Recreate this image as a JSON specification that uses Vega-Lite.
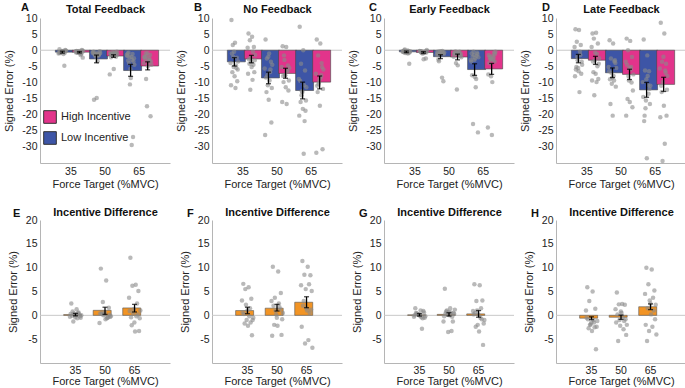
{
"$schema":"https://vega.github.io/schema/vega-lite/v6.json",
"padding":{"left":3,"top":2,"right":0,"bottom":0},
"background":"white",
"config":{"font":"Liberation Sans","view":{"stroke":null},
 "axis":{"labelFont":"Liberation Sans","titleFont":"Liberation Sans","labelFontSize":10.5,"titleFontSize":11,"titleFontWeight":"normal","labelColor":"#222","titleColor":"#222","ticks":false,"grid":false,"domainColor":"#b5b5b5","labelPadding":3,"titlePadding":7,"labelOverlap":false},
 "title":{"anchor":"start","frame":"group","fontSize":11,"fontWeight":"bold","color":"#111","font":"Liberation Sans"},
 "legend":{"labelFont":"Liberation Sans"}},
"datasets":{
"bars":[
{"p":"A","c":"35L","g":"Low Incentive","m":-0.6,"lo":-0.9,"hi":-0.3},
{"p":"A","c":"35H","g":"High Incentive","m":-0.6,"lo":-0.85,"hi":-0.4},
{"p":"A","c":"50L","g":"Low Incentive","m":-2.7,"lo":-3.9,"hi":-1.5},
{"p":"A","c":"50H","g":"High Incentive","m":-1.8,"lo":-2.2,"hi":-1.4},
{"p":"A","c":"65L","g":"Low Incentive","m":-6.3,"lo":-8.1,"hi":-4.4},
{"p":"A","c":"65H","g":"High Incentive","m":-4.9,"lo":-6.1,"hi":-3.6},
{"p":"B","c":"35L","g":"Low Incentive","m":-3.6,"lo":-4.9,"hi":-2.3},
{"p":"B","c":"35H","g":"High Incentive","m":-2.7,"lo":-3.9,"hi":-1.6},
{"p":"B","c":"50L","g":"Low Incentive","m":-8.6,"lo":-10.4,"hi":-6.8},
{"p":"B","c":"50H","g":"High Incentive","m":-7.2,"lo":-8.7,"hi":-5.6},
{"p":"B","c":"65L","g":"Low Incentive","m":-12.5,"lo":-15.1,"hi":-9.9},
{"p":"B","c":"65H","g":"High Incentive","m":-9.9,"lo":-12.0,"hi":-8.0},
{"p":"C","c":"35L","g":"Low Incentive","m":-0.5,"lo":-0.75,"hi":-0.25},
{"p":"C","c":"35H","g":"High Incentive","m":-0.7,"lo":-0.95,"hi":-0.45},
{"p":"C","c":"50L","g":"Low Incentive","m":-2.0,"lo":-2.6,"hi":-1.4},
{"p":"C","c":"50H","g":"High Incentive","m":-2.1,"lo":-3.0,"hi":-1.2},
{"p":"C","c":"65L","g":"Low Incentive","m":-6.0,"lo":-7.8,"hi":-4.2},
{"p":"C","c":"65H","g":"High Incentive","m":-5.8,"lo":-7.5,"hi":-4.1},
{"p":"D","c":"35L","g":"Low Incentive","m":-2.6,"lo":-3.9,"hi":-1.3},
{"p":"D","c":"35H","g":"High Incentive","m":-3.1,"lo":-4.4,"hi":-1.9},
{"p":"D","c":"50L","g":"Low Incentive","m":-7.0,"lo":-8.5,"hi":-5.5},
{"p":"D","c":"50H","g":"High Incentive","m":-7.5,"lo":-9.1,"hi":-5.9},
{"p":"D","c":"65L","g":"Low Incentive","m":-12.3,"lo":-14.6,"hi":-10.0},
{"p":"D","c":"65H","g":"High Incentive","m":-10.6,"lo":-12.8,"hi":-8.4},
{"p":"E","c":"35","g":"Difference","m":0.15,"lo":-0.1,"hi":0.4},
{"p":"E","c":"50","g":"Difference","m":1.05,"lo":0.2,"hi":1.7},
{"p":"E","c":"65","g":"Difference","m":1.55,"lo":0.7,"hi":2.3},
{"p":"F","c":"35","g":"Difference","m":1.0,"lo":0.35,"hi":1.7},
{"p":"F","c":"50","g":"Difference","m":1.5,"lo":0.9,"hi":2.3},
{"p":"F","c":"65","g":"Difference","m":2.75,"lo":1.6,"hi":3.9},
{"p":"G","c":"35","g":"Difference","m":0.1,"lo":-0.15,"hi":0.35},
{"p":"G","c":"50","g":"Difference","m":0.2,"lo":-0.15,"hi":0.55},
{"p":"G","c":"65","g":"Difference","m":0.3,"lo":-0.4,"hi":1.0},
{"p":"H","c":"35","g":"Difference","m":-0.6,"lo":-0.9,"hi":-0.3},
{"p":"H","c":"50","g":"Difference","m":-0.4,"lo":-0.85,"hi":0.05},
{"p":"H","c":"65","g":"Difference","m":1.8,"lo":1.2,"hi":2.4}
],
"pA":[
{"c":"35L","v":0.3},{"c":"35L","v":-0.2},{"c":"35L","v":-0.5},{"c":"35L","v":-0.8},{"c":"35L","v":-1.0},{"c":"35L","v":-0.4},{"c":"35L","v":-0.6},{"c":"35L","v":-0.1},{"c":"35L","v":-0.9},{"c":"35L","v":-0.3},{"c":"35L","v":0.1},{"c":"35L","v":-0.7},{"c":"35L","v":-1.2},{"c":"35L","v":-0.5},{"c":"35L","v":-0.2},{"c":"35L","v":-0.8},{"c":"35L","v":-4.8},{"c":"35L","v":-0.4},
{"c":"35H","v":-0.2},{"c":"35H","v":-0.5},{"c":"35H","v":-0.8},{"c":"35H","v":0.1},{"c":"35H","v":-0.3},{"c":"35H","v":-1.0},{"c":"35H","v":-0.6},{"c":"35H","v":-2.3},{"c":"35H","v":-0.4},{"c":"35H","v":-0.9},{"c":"35H","v":-0.1},{"c":"35H","v":-0.7},{"c":"35H","v":-1.5},{"c":"35H","v":-0.5},{"c":"35H","v":-0.3},{"c":"35H","v":-0.6},{"c":"35H","v":-1.1},{"c":"35H","v":-0.2},
{"c":"50L","v":-0.5},{"c":"50L","v":-1.0},{"c":"50L","v":-1.2},{"c":"50L","v":-1.5},{"c":"50L","v":-0.8},{"c":"50L","v":-1.8},{"c":"50L","v":-2.0},{"c":"50L","v":-0.3},{"c":"50L","v":-1.3},{"c":"50L","v":-14.8},{"c":"50L","v":-1.1},{"c":"50L","v":-0.7},{"c":"50L","v":-3.4},{"c":"50L","v":-1.6},{"c":"50L","v":-0.9},{"c":"50L","v":-15.4},{"c":"50L","v":-1.4},{"c":"50L","v":-1.0},
{"c":"50H","v":-1.2},{"c":"50H","v":-0.8},{"c":"50H","v":-1.5},{"c":"50H","v":-2.0},{"c":"50H","v":-7.5},{"c":"50H","v":-1.0},{"c":"50H","v":-1.7},{"c":"50H","v":-0.5},{"c":"50H","v":-1.3},{"c":"50H","v":-5.8},{"c":"50H","v":-1.1},{"c":"50H","v":-0.9},{"c":"50H","v":-1.6},{"c":"50H","v":-0.6},{"c":"50H","v":-1.4},{"c":"50H","v":-2.2},{"c":"50H","v":-0.7},{"c":"50H","v":-1.0},
{"c":"65L","v":-1.0},{"c":"65L","v":-2.0},{"c":"65L","v":-4.0},{"c":"65L","v":-26.9},{"c":"65L","v":-1.5},{"c":"65L","v":-3.0},{"c":"65L","v":-10.6},{"c":"65L","v":-2.5},{"c":"65L","v":-0.8},{"c":"65L","v":-8.6},{"c":"65L","v":-3.5},{"c":"65L","v":-1.8},{"c":"65L","v":-29.4},{"c":"65L","v":-2.2},{"c":"65L","v":-4.5},{"c":"65L","v":-3.2},{"c":"65L","v":-1.2},{"c":"65L","v":-5.8},
{"c":"65H","v":-2.0},{"c":"65H","v":-3.0},{"c":"65H","v":-8.9},{"c":"65H","v":-1.5},{"c":"65H","v":-4.0},{"c":"65H","v":-2.5},{"c":"65H","v":-17.4},{"c":"65H","v":-3.5},{"c":"65H","v":-1.0},{"c":"65H","v":-5.0},{"c":"65H","v":-20.5},{"c":"65H","v":-2.2},{"c":"65H","v":-3.8},{"c":"65H","v":-1.8},{"c":"65H","v":-4.5},{"c":"65H","v":-2.8},{"c":"65H","v":-3.2},{"c":"65H","v":-0.9}
],
"pB":[
{"c":"35L","v":9.4},{"c":"35L","v":2.3},{"c":"35L","v":1.6},{"c":"35L","v":-2.3},{"c":"35L","v":-4.0},{"c":"35L","v":-4.7},{"c":"35L","v":-5.2},{"c":"35L","v":-6.0},{"c":"35L","v":-6.8},{"c":"35L","v":-8.1},{"c":"35L","v":-9.6},{"c":"35L","v":-10.9},{"c":"35L","v":-11.7},{"c":"35L","v":-2.0},{"c":"35L","v":-3.5},{"c":"35L","v":-1.0},{"c":"35L","v":-5.5},{"c":"35L","v":-0.5},
{"c":"35H","v":5.2},{"c":"35H","v":4.2},{"c":"35H","v":3.1},{"c":"35H","v":1.0},{"c":"35H","v":0.8},{"c":"35H","v":-0.5},{"c":"35H","v":-2.3},{"c":"35H","v":-3.1},{"c":"35H","v":-4.2},{"c":"35H","v":-5.2},{"c":"35H","v":-6.8},{"c":"35H","v":-7.3},{"c":"35H","v":-9.2},{"c":"35H","v":-12.3},{"c":"35H","v":-1.5},{"c":"35H","v":-2.8},{"c":"35H","v":-4.5},{"c":"35H","v":-3.5},
{"c":"50L","v":3.3},{"c":"50L","v":-1.0},{"c":"50L","v":-2.6},{"c":"50L","v":-3.6},{"c":"50L","v":-5.7},{"c":"50L","v":-6.8},{"c":"50L","v":-10.9},{"c":"50L","v":-11.7},{"c":"50L","v":-13.0},{"c":"50L","v":-15.4},{"c":"50L","v":-22.4},{"c":"50L","v":-26.3},{"c":"50L","v":-9.4},{"c":"50L","v":-7.8},{"c":"50L","v":-4.5},{"c":"50L","v":-8.5},{"c":"50L","v":-6.0},{"c":"50L","v":-2.0},
{"c":"50H","v":1.2},{"c":"50H","v":1.0},{"c":"50H","v":-1.6},{"c":"50H","v":-4.7},{"c":"50H","v":-5.2},{"c":"50H","v":-6.3},{"c":"50H","v":-7.8},{"c":"50H","v":-9.4},{"c":"50H","v":-9.9},{"c":"50H","v":-11.5},{"c":"50H","v":-12.5},{"c":"50H","v":-16.1},{"c":"50H","v":-16.7},{"c":"50H","v":-3.0},{"c":"50H","v":-5.5},{"c":"50H","v":-8.0},{"c":"50H","v":-6.5},{"c":"50H","v":-7.8},
{"c":"65L","v":7.3},{"c":"65L","v":0.0},{"c":"65L","v":-4.2},{"c":"65L","v":-6.3},{"c":"65L","v":-8.9},{"c":"65L","v":-10.9},{"c":"65L","v":-12.7},{"c":"65L","v":-15.6},{"c":"65L","v":-16.1},{"c":"65L","v":-18.2},{"c":"65L","v":-18.8},{"c":"65L","v":-20.3},{"c":"65L","v":-32.1},{"c":"65L","v":-14.0},{"c":"65L","v":-11.5},{"c":"65L","v":-9.5},{"c":"65L","v":-22.0},{"c":"65L","v":-13.0},
{"c":"65H","v":3.3},{"c":"65H","v":2.1},{"c":"65H","v":-1.6},{"c":"65H","v":-5.2},{"c":"65H","v":-7.3},{"c":"65H","v":-7.8},{"c":"65H","v":-9.9},{"c":"65H","v":-12.0},{"c":"65H","v":-13.0},{"c":"65H","v":-17.2},{"c":"65H","v":-30.7},{"c":"65H","v":-31.8},{"c":"65H","v":-8.5},{"c":"65H","v":-10.5},{"c":"65H","v":-6.0},{"c":"65H","v":-11.0},{"c":"65H","v":-4.0},{"c":"65H","v":-9.0}
],
"pC":[
{"c":"35L","v":-0.2},{"c":"35L","v":-0.5},{"c":"35L","v":0.2},{"c":"35L","v":-0.8},{"c":"35L","v":-0.4},{"c":"35L","v":-1.0},{"c":"35L","v":-0.3},{"c":"35L","v":-0.6},{"c":"35L","v":0.0},{"c":"35L","v":-0.7},{"c":"35L","v":-4.2},{"c":"35L","v":-0.5},{"c":"35L","v":-0.1},{"c":"35L","v":-0.9},{"c":"35L","v":-0.3},{"c":"35L","v":-0.6},{"c":"35L","v":-0.2},{"c":"35L","v":-0.4},
{"c":"35H","v":-0.3},{"c":"35H","v":-0.6},{"c":"35H","v":-0.9},{"c":"35H","v":-2.6},{"c":"35H","v":-0.2},{"c":"35H","v":-0.5},{"c":"35H","v":-1.0},{"c":"35H","v":0.1},{"c":"35H","v":-0.4},{"c":"35H","v":-2.8},{"c":"35H","v":-0.7},{"c":"35H","v":-0.3},{"c":"35H","v":-0.8},{"c":"35H","v":-0.5},{"c":"35H","v":-0.2},{"c":"35H","v":-0.6},{"c":"35H","v":-0.4},{"c":"35H","v":-0.9},
{"c":"50L","v":-0.5},{"c":"50L","v":-1.0},{"c":"50L","v":-3.4},{"c":"50L","v":-0.8},{"c":"50L","v":-1.5},{"c":"50L","v":-8.5},{"c":"50L","v":-0.3},{"c":"50L","v":-1.2},{"c":"50L","v":-2.9},{"c":"50L","v":-0.6},{"c":"50L","v":-9.6},{"c":"50L","v":-0.9},{"c":"50L","v":-0.4},{"c":"50L","v":-1.1},{"c":"50L","v":-0.7},{"c":"50L","v":-1.3},{"c":"50L","v":-0.2},{"c":"50L","v":-0.8},
{"c":"50H","v":-1.0},{"c":"50H","v":-0.6},{"c":"50H","v":-4.0},{"c":"50H","v":-1.5},{"c":"50H","v":-2.0},{"c":"50H","v":-0.8},{"c":"50H","v":-12.2},{"c":"50H","v":-1.2},{"c":"50H","v":-0.4},{"c":"50H","v":-4.7},{"c":"50H","v":-1.8},{"c":"50H","v":-0.9},{"c":"50H","v":-1.4},{"c":"50H","v":-0.7},{"c":"50H","v":-2.2},{"c":"50H","v":-1.1},{"c":"50H","v":-0.5},{"c":"50H","v":-1.0},
{"c":"65L","v":-1.0},{"c":"65L","v":-2.5},{"c":"65L","v":-22.9},{"c":"65L","v":-0.8},{"c":"65L","v":-3.0},{"c":"65L","v":-8.9},{"c":"65L","v":-1.5},{"c":"65L","v":-25.5},{"c":"65L","v":-2.0},{"c":"65L","v":-8.3},{"c":"65L","v":-1.2},{"c":"65L","v":-3.5},{"c":"65L","v":-11.5},{"c":"65L","v":-0.5},{"c":"65L","v":-2.2},{"c":"65L","v":-7.8},{"c":"65L","v":-1.8},{"c":"65L","v":-3.0},
{"c":"65H","v":-1.5},{"c":"65H","v":-9.9},{"c":"65H","v":-2.5},{"c":"65H","v":-0.8},{"c":"65H","v":-24.0},{"c":"65H","v":-3.0},{"c":"65H","v":-8.1},{"c":"65H","v":-1.2},{"c":"65H","v":-2.0},{"c":"65H","v":-26.3},{"c":"65H","v":-3.5},{"c":"65H","v":-7.5},{"c":"65H","v":-1.8},{"c":"65H","v":-2.8},{"c":"65H","v":-0.5},{"c":"65H","v":-4.0},{"c":"65H","v":-2.2},{"c":"65H","v":-2.8}
],
"pD":[
{"c":"35L","v":6.5},{"c":"35L","v":6.3},{"c":"35L","v":2.6},{"c":"35L","v":1.6},{"c":"35L","v":1.0},{"c":"35L","v":-0.5},{"c":"35L","v":-3.1},{"c":"35L","v":-3.6},{"c":"35L","v":-5.2},{"c":"35L","v":-6.5},{"c":"35L","v":-7.3},{"c":"35L","v":-8.1},{"c":"35L","v":-13.0},{"c":"35L","v":-2.0},{"c":"35L","v":-4.5},{"c":"35L","v":-6.0},{"c":"35L","v":-1.5},{"c":"35L","v":-5.5},
{"c":"35H","v":5.2},{"c":"35H","v":5.4},{"c":"35H","v":3.6},{"c":"35H","v":2.1},{"c":"35H","v":1.0},{"c":"35H","v":-1.2},{"c":"35H","v":-3.1},{"c":"35H","v":-4.2},{"c":"35H","v":-6.8},{"c":"35H","v":-7.3},{"c":"35H","v":-8.9},{"c":"35H","v":-9.4},{"c":"35H","v":-9.9},{"c":"35H","v":-14.0},{"c":"35H","v":-2.5},{"c":"35H","v":-3.5},{"c":"35H","v":-5.0},{"c":"35H","v":-0.8},
{"c":"50L","v":3.1},{"c":"50L","v":2.1},{"c":"50L","v":-2.6},{"c":"50L","v":-3.1},{"c":"50L","v":-5.2},{"c":"50L","v":-9.4},{"c":"50L","v":-10.4},{"c":"50L","v":-11.3},{"c":"50L","v":-16.7},{"c":"50L","v":-20.3},{"c":"50L","v":-4.0},{"c":"50L","v":-6.5},{"c":"50L","v":-8.0},{"c":"50L","v":-7.0},{"c":"50L","v":-5.5},{"c":"50L","v":-9.0},{"c":"50L","v":-3.5},{"c":"50L","v":-8.5},
{"c":"50H","v":3.6},{"c":"50H","v":2.9},{"c":"50H","v":0.0},{"c":"50H","v":-2.1},{"c":"50H","v":-3.6},{"c":"50H","v":-5.2},{"c":"50H","v":-9.4},{"c":"50H","v":-12.5},{"c":"50H","v":-15.1},{"c":"50H","v":-16.1},{"c":"50H","v":-17.7},{"c":"50H","v":-20.3},{"c":"50H","v":-6.0},{"c":"50H","v":-8.0},{"c":"50H","v":-7.5},{"c":"50H","v":-4.5},{"c":"50H","v":-10.0},{"c":"50H","v":-5.5},
{"c":"65L","v":3.3},{"c":"65L","v":-1.6},{"c":"65L","v":-6.3},{"c":"65L","v":-6.5},{"c":"65L","v":-9.9},{"c":"65L","v":-10.9},{"c":"65L","v":-15.6},{"c":"65L","v":-16.7},{"c":"65L","v":-20.3},{"c":"65L","v":-33.5},{"c":"65L","v":-12.0},{"c":"65L","v":-14.5},{"c":"65L","v":-8.0},{"c":"65L","v":-18.0},{"c":"65L","v":-11.0},{"c":"65L","v":-22.0},{"c":"65L","v":-13.5},{"c":"65L","v":-9.0},
{"c":"65H","v":8.5},{"c":"65H","v":5.2},{"c":"65H","v":-3.6},{"c":"65H","v":-4.2},{"c":"65H","v":-5.7},{"c":"65H","v":-6.3},{"c":"65H","v":-9.9},{"c":"65H","v":-12.3},{"c":"65H","v":-13.0},{"c":"65H","v":-17.2},{"c":"65H","v":-20.3},{"c":"65H","v":-20.8},{"c":"65H","v":-29.0},{"c":"65H","v":-34.4},{"c":"65H","v":-8.0},{"c":"65H","v":-11.0},{"c":"65H","v":-7.0},{"c":"65H","v":-2.0}
],
"pE":[
{"c":"35","v":2.5},{"c":"35","v":1.3},{"c":"35","v":-1.3},{"c":"35","v":0.2},{"c":"35","v":-0.3},{"c":"35","v":0.5},{"c":"35","v":0.0},{"c":"35","v":-0.5},{"c":"35","v":0.8},{"c":"35","v":0.1},{"c":"35","v":-0.2},{"c":"35","v":0.3},{"c":"35","v":-0.6},{"c":"35","v":0.4},{"c":"35","v":0.0},{"c":"35","v":-0.1},{"c":"35","v":0.6},{"c":"35","v":-0.4},
{"c":"50","v":9.8},{"c":"50","v":7.3},{"c":"50","v":2.8},{"c":"50","v":1.6},{"c":"50","v":-1.6},{"c":"50","v":-0.5},{"c":"50","v":0.2},{"c":"50","v":-0.3},{"c":"50","v":0.5},{"c":"50","v":-0.8},{"c":"50","v":0.1},{"c":"50","v":0.4},{"c":"50","v":-0.6},{"c":"50","v":0.0},{"c":"50","v":-0.2},{"c":"50","v":0.3},{"c":"50","v":-0.4},{"c":"50","v":0.6},
{"c":"65","v":12.1},{"c":"65","v":6.4},{"c":"65","v":6.2},{"c":"65","v":5.1},{"c":"65","v":3.7},{"c":"65","v":2.5},{"c":"65","v":1.3},{"c":"65","v":-0.6},{"c":"65","v":-2.1},{"c":"65","v":-3.4},{"c":"65","v":-3.3},{"c":"65","v":0.9},{"c":"65","v":-0.2},{"c":"65","v":0.5},{"c":"65","v":1.0},{"c":"65","v":-0.4},{"c":"65","v":0.2},{"c":"65","v":-1.5}
],
"pF":[
{"c":"35","v":6.6},{"c":"35","v":5.9},{"c":"35","v":5.5},{"c":"35","v":3.5},{"c":"35","v":3.1},{"c":"35","v":1.5},{"c":"35","v":-1.0},{"c":"35","v":-1.0},{"c":"35","v":-1.7},{"c":"35","v":-2.2},{"c":"35","v":-4.2},{"c":"35","v":0.6},{"c":"35","v":-0.2},{"c":"35","v":2.2},{"c":"35","v":-0.5},{"c":"35","v":0.3},{"c":"35","v":-1.5},{"c":"35","v":1.0},
{"c":"50","v":10.2},{"c":"50","v":9.2},{"c":"50","v":3.7},{"c":"50","v":4.7},{"c":"50","v":3.0},{"c":"50","v":1.7},{"c":"50","v":0.2},{"c":"50","v":-0.8},{"c":"50","v":-2.0},{"c":"50","v":-2.2},{"c":"50","v":-4.1},{"c":"50","v":-4.3},{"c":"50","v":2.5},{"c":"50","v":1.0},{"c":"50","v":0.5},{"c":"50","v":2.0},{"c":"50","v":1.2},{"c":"50","v":-0.5},
{"c":"65","v":11.4},{"c":"65","v":10.2},{"c":"65","v":8.5},{"c":"65","v":8.4},{"c":"65","v":6.3},{"c":"65","v":6.5},{"c":"65","v":5.5},{"c":"65","v":5.1},{"c":"65","v":3.0},{"c":"65","v":1.0},{"c":"65","v":1.2},{"c":"65","v":-2.4},{"c":"65","v":-5.2},{"c":"65","v":-5.9},{"c":"65","v":-6.8},{"c":"65","v":2.0},{"c":"65","v":0.5},{"c":"65","v":1.5}
],
"pG":[
{"c":"35","v":1.5},{"c":"35","v":1.0},{"c":"35","v":0.3},{"c":"35","v":0.9},{"c":"35","v":-0.3},{"c":"35","v":-2.8},{"c":"35","v":0.1},{"c":"35","v":-0.5},{"c":"35","v":0.4},{"c":"35","v":-0.1},{"c":"35","v":0.6},{"c":"35","v":0.0},{"c":"35","v":-0.4},{"c":"35","v":0.2},{"c":"35","v":-0.2},{"c":"35","v":0.5},{"c":"35","v":-0.6},{"c":"35","v":0.2},
{"c":"50","v":5.6},{"c":"50","v":1.5},{"c":"50","v":1.0},{"c":"50","v":-1.3},{"c":"50","v":-1.3},{"c":"50","v":-3.3},{"c":"50","v":-3.5},{"c":"50","v":0.3},{"c":"50","v":0.8},{"c":"50","v":0.0},{"c":"50","v":0.5},{"c":"50","v":-0.2},{"c":"50","v":0.6},{"c":"50","v":0.2},{"c":"50","v":1.2},{"c":"50","v":0.4},{"c":"50","v":-0.3},{"c":"50","v":0.7},
{"c":"65","v":6.5},{"c":"65","v":6.3},{"c":"65","v":3.0},{"c":"65","v":3.1},{"c":"65","v":0.9},{"c":"65","v":1.5},{"c":"65","v":-2.0},{"c":"65","v":-1.7},{"c":"65","v":-2.4},{"c":"65","v":-3.4},{"c":"65","v":-6.2},{"c":"65","v":0.2},{"c":"65","v":-0.5},{"c":"65","v":1.0},{"c":"65","v":-1.0},{"c":"65","v":0.5},{"c":"65","v":-0.8},{"c":"65","v":0.2}
],
"pH":[
{"c":"35","v":5.9},{"c":"35","v":5.0},{"c":"35","v":3.0},{"c":"35","v":1.4},{"c":"35","v":1.0},{"c":"35","v":-1.5},{"c":"35","v":-1.9},{"c":"35","v":-2.4},{"c":"35","v":-2.7},{"c":"35","v":-3.3},{"c":"35","v":-7.1},{"c":"35","v":-0.5},{"c":"35","v":-1.0},{"c":"35","v":-2.0},{"c":"35","v":-1.2},{"c":"35","v":-0.8},{"c":"35","v":-2.5},{"c":"35","v":-1.5},
{"c":"50","v":4.8},{"c":"50","v":2.4},{"c":"50","v":2.3},{"c":"50","v":2.2},{"c":"50","v":1.3},{"c":"50","v":-2.9},{"c":"50","v":-2.2},{"c":"50","v":-4.1},{"c":"50","v":-5.4},{"c":"50","v":0.5},{"c":"50","v":-0.8},{"c":"50","v":-1.5},{"c":"50","v":-0.3},{"c":"50","v":-1.0},{"c":"50","v":-2.0},{"c":"50","v":0.2},{"c":"50","v":-1.2},{"c":"50","v":0.8},
{"c":"65","v":10.0},{"c":"65","v":9.6},{"c":"65","v":6.5},{"c":"65","v":5.2},{"c":"65","v":4.5},{"c":"65","v":3.7},{"c":"65","v":3.1},{"c":"65","v":2.2},{"c":"65","v":1.5},{"c":"65","v":0.2},{"c":"65","v":-0.8},{"c":"65","v":-2.0},{"c":"65","v":-2.4},{"c":"65","v":-3.3},{"c":"65","v":-4.0},{"c":"65","v":-5.4},{"c":"65","v":1.0},{"c":"65","v":2.5}
]
},
"columns":4,
"spacing":{"row":57,"column":42},
"bounds":"flush",
"resolve":{"scale":{"x":"independent","y":"independent","color":"independent","xOffset":"independent"},"legend":{"color":"independent"}},
"concat":[
{"width":130,"height":145,"title":{"text":"A","dx":-19,"offset":-9.5},
 "layer":[
  {"data":{"values":[{}]},"mark":{"type":"rule","color":"#c8c8c8","strokeWidth":1},"encoding":{"y":{"datum":0,"type":"quantitative","axis":null}}},
  {"data":{"name":"bars"},"transform":[{"filter":"datum.p=='A'"}],"mark":{"type":"bar","stroke":"#444","strokeWidth":0.6},"encoding":{"x":{"field":"c","type":"nominal","sort":["35L","35H","50L","50H","65L","65H"],"scale":{"paddingInner":0.18,"paddingOuter":0.9},"axis":{"title":"Force Target (%MVC)","labelAngle":0,"labelExpr":"indexof(datum.value,'L')>0 ? replace(datum.value,'L','') : ''","labelOffset":8.6,"labelPadding":3,"titlePadding":2}},"y":{"field":"m","type":"quantitative","scale":{"domain":[-35,10],"nice":false},"axis":{"title":"Signed Error (%)","values":[-30,-25,-20,-15,-10,-5,0,5,10],"labelExpr":"''+datum.value","labelOverlap":false}},"color":{"field":"g","type":"nominal","scale":{"domain":["High Incentive","Low Incentive"],"range":["#e2348b","#3d55a6"]},"legend":{"orient":"none","legendX":3,"legendY":92,"title":null,"symbolType":"square","symbolSize":160,"symbolStrokeColor":"#333","symbolStrokeWidth":1,"symbolOpacity":1,"labelFontSize":11,"labelColor":"#222","rowPadding":3,"labelOffset":4}}}},
  {"data":{"name":"pA"},"transform":[{"window":[{"op":"row_number","as":"i"}],"groupby":["c"]}],"mark":{"type":"circle","size":20,"color":"#8a8a8a","opacity":0.6},"encoding":{"x":{"field":"c","type":"nominal","sort":["35L","35H","50L","50H","65L","65H"],"axis":{"orient":"top","title":"Total Feedback","labels":false,"domain":false,"ticks":false,"titleFontWeight":"bold","titlePadding":3.5,"titleColor":"#111"}},"xOffset":{"field":"i","type":"ordinal","scale":{"domain":[5,12,1,16,9,3,14,7,18,10,2,13,6,17,4,11,8,15],"range":[3,11]}},"y":{"field":"v","type":"quantitative","axis":null}}},
  {"data":{"name":"bars"},"transform":[{"filter":"datum.p=='A'"}],"mark":{"type":"rule","color":"#000","strokeWidth":1.3},"encoding":{"x":{"field":"c","type":"nominal","sort":["35L","35H","50L","50H","65L","65H"],"axis":null},"y":{"field":"lo","type":"quantitative","axis":null},"y2":{"field":"hi"}}},
  {"data":{"name":"bars"},"transform":[{"filter":"datum.p=='A'"},{"fold":["lo","hi"],"as":["k","e"]}],"mark":{"type":"tick","color":"#000","thickness":1.3,"size":5},"encoding":{"x":{"field":"c","type":"nominal","sort":["35L","35H","50L","50H","65L","65H"],"axis":null},"y":{"field":"e","type":"quantitative","axis":null}}}
 ],
 "resolve":{"axis":{"x":"independent","y":"independent"}}},
{"width":130,"height":145,"title":{"text":"B","dx":-18,"offset":-9.5},
 "layer":[
  {"data":{"values":[{}]},"mark":{"type":"rule","color":"#c8c8c8","strokeWidth":1},"encoding":{"y":{"datum":0,"type":"quantitative","axis":null}}},
  {"data":{"name":"bars"},"transform":[{"filter":"datum.p=='B'"}],"mark":{"type":"bar","stroke":"#444","strokeWidth":0.6},"encoding":{"x":{"field":"c","type":"nominal","sort":["35L","35H","50L","50H","65L","65H"],"scale":{"paddingInner":0.18,"paddingOuter":0.9},"axis":{"title":"Force Target (%MVC)","labelAngle":0,"labelExpr":"indexof(datum.value,'L')>0 ? replace(datum.value,'L','') : ''","labelOffset":8.6,"labelPadding":3,"titlePadding":2}},"y":{"field":"m","type":"quantitative","scale":{"domain":[-35,10],"nice":false},"axis":{"title":"Signed Error (%)","values":[-30,-25,-20,-15,-10,-5,0,5,10],"labelExpr":"''+datum.value","labelOverlap":false}},"color":{"field":"g","type":"nominal","scale":{"domain":["High Incentive","Low Incentive"],"range":["#e2348b","#3d55a6"]},"legend":null}}},
  {"data":{"name":"pB"},"transform":[{"window":[{"op":"row_number","as":"i"}],"groupby":["c"]}],"mark":{"type":"circle","size":20,"color":"#8a8a8a","opacity":0.6},"encoding":{"x":{"field":"c","type":"nominal","sort":["35L","35H","50L","50H","65L","65H"],"axis":{"orient":"top","title":"No Feedback","labels":false,"domain":false,"ticks":false,"titleFontWeight":"bold","titlePadding":3.5,"titleColor":"#111"}},"xOffset":{"field":"i","type":"ordinal","scale":{"domain":[5,12,1,16,9,3,14,7,18,10,2,13,6,17,4,11,8,15],"range":[3,11]}},"y":{"field":"v","type":"quantitative","axis":null}}},
  {"data":{"name":"bars"},"transform":[{"filter":"datum.p=='B'"}],"mark":{"type":"rule","color":"#000","strokeWidth":1.3},"encoding":{"x":{"field":"c","type":"nominal","sort":["35L","35H","50L","50H","65L","65H"],"axis":null},"y":{"field":"lo","type":"quantitative","axis":null},"y2":{"field":"hi"}}},
  {"data":{"name":"bars"},"transform":[{"filter":"datum.p=='B'"},{"fold":["lo","hi"],"as":["k","e"]}],"mark":{"type":"tick","color":"#000","thickness":1.3,"size":5},"encoding":{"x":{"field":"c","type":"nominal","sort":["35L","35H","50L","50H","65L","65H"],"axis":null},"y":{"field":"e","type":"quantitative","axis":null}}}
 ],
 "resolve":{"axis":{"x":"independent","y":"independent"}}},
{"width":130,"height":145,"title":{"text":"C","dx":-15,"offset":-9.5},
 "layer":[
  {"data":{"values":[{}]},"mark":{"type":"rule","color":"#c8c8c8","strokeWidth":1},"encoding":{"y":{"datum":0,"type":"quantitative","axis":null}}},
  {"data":{"name":"bars"},"transform":[{"filter":"datum.p=='C'"}],"mark":{"type":"bar","stroke":"#444","strokeWidth":0.6},"encoding":{"x":{"field":"c","type":"nominal","sort":["35L","35H","50L","50H","65L","65H"],"scale":{"paddingInner":0.18,"paddingOuter":0.9},"axis":{"title":"Force Target (%MVC)","labelAngle":0,"labelExpr":"indexof(datum.value,'L')>0 ? replace(datum.value,'L','') : ''","labelOffset":8.6,"labelPadding":3,"titlePadding":2}},"y":{"field":"m","type":"quantitative","scale":{"domain":[-35,10],"nice":false},"axis":{"title":"Signed Error (%)","values":[-30,-25,-20,-15,-10,-5,0,5,10],"labelExpr":"''+datum.value","labelOverlap":false}},"color":{"field":"g","type":"nominal","scale":{"domain":["High Incentive","Low Incentive"],"range":["#e2348b","#3d55a6"]},"legend":null}}},
  {"data":{"name":"pC"},"transform":[{"window":[{"op":"row_number","as":"i"}],"groupby":["c"]}],"mark":{"type":"circle","size":20,"color":"#8a8a8a","opacity":0.6},"encoding":{"x":{"field":"c","type":"nominal","sort":["35L","35H","50L","50H","65L","65H"],"axis":{"orient":"top","title":"Early Feedback","labels":false,"domain":false,"ticks":false,"titleFontWeight":"bold","titlePadding":3.5,"titleColor":"#111"}},"xOffset":{"field":"i","type":"ordinal","scale":{"domain":[5,12,1,16,9,3,14,7,18,10,2,13,6,17,4,11,8,15],"range":[3,11]}},"y":{"field":"v","type":"quantitative","axis":null}}},
  {"data":{"name":"bars"},"transform":[{"filter":"datum.p=='C'"}],"mark":{"type":"rule","color":"#000","strokeWidth":1.3},"encoding":{"x":{"field":"c","type":"nominal","sort":["35L","35H","50L","50H","65L","65H"],"axis":null},"y":{"field":"lo","type":"quantitative","axis":null},"y2":{"field":"hi"}}},
  {"data":{"name":"bars"},"transform":[{"filter":"datum.p=='C'"},{"fold":["lo","hi"],"as":["k","e"]}],"mark":{"type":"tick","color":"#000","thickness":1.3,"size":5},"encoding":{"x":{"field":"c","type":"nominal","sort":["35L","35H","50L","50H","65L","65H"],"axis":null},"y":{"field":"e","type":"quantitative","axis":null}}}
 ],
 "resolve":{"axis":{"x":"independent","y":"independent"}}},
{"width":130,"height":145,"title":{"text":"D","dx":-14,"offset":-9.5},
 "layer":[
  {"data":{"values":[{}]},"mark":{"type":"rule","color":"#c8c8c8","strokeWidth":1},"encoding":{"y":{"datum":0,"type":"quantitative","axis":null}}},
  {"data":{"name":"bars"},"transform":[{"filter":"datum.p=='D'"}],"mark":{"type":"bar","stroke":"#444","strokeWidth":0.6},"encoding":{"x":{"field":"c","type":"nominal","sort":["35L","35H","50L","50H","65L","65H"],"scale":{"paddingInner":0.18,"paddingOuter":0.9},"axis":{"title":"Force Target (%MVC)","labelAngle":0,"labelExpr":"indexof(datum.value,'L')>0 ? replace(datum.value,'L','') : ''","labelOffset":8.6,"labelPadding":3,"titlePadding":2}},"y":{"field":"m","type":"quantitative","scale":{"domain":[-35,10],"nice":false},"axis":{"title":"Signed Error (%)","values":[-30,-25,-20,-15,-10,-5,0,5,10],"labelExpr":"''+datum.value","labelOverlap":false}},"color":{"field":"g","type":"nominal","scale":{"domain":["High Incentive","Low Incentive"],"range":["#e2348b","#3d55a6"]},"legend":null}}},
  {"data":{"name":"pD"},"transform":[{"window":[{"op":"row_number","as":"i"}],"groupby":["c"]}],"mark":{"type":"circle","size":20,"color":"#8a8a8a","opacity":0.6},"encoding":{"x":{"field":"c","type":"nominal","sort":["35L","35H","50L","50H","65L","65H"],"axis":{"orient":"top","title":"Late Feedback","labels":false,"domain":false,"ticks":false,"titleFontWeight":"bold","titlePadding":3.5,"titleColor":"#111"}},"xOffset":{"field":"i","type":"ordinal","scale":{"domain":[5,12,1,16,9,3,14,7,18,10,2,13,6,17,4,11,8,15],"range":[3,11]}},"y":{"field":"v","type":"quantitative","axis":null}}},
  {"data":{"name":"bars"},"transform":[{"filter":"datum.p=='D'"}],"mark":{"type":"rule","color":"#000","strokeWidth":1.3},"encoding":{"x":{"field":"c","type":"nominal","sort":["35L","35H","50L","50H","65L","65H"],"axis":null},"y":{"field":"lo","type":"quantitative","axis":null},"y2":{"field":"hi"}}},
  {"data":{"name":"bars"},"transform":[{"filter":"datum.p=='D'"},{"fold":["lo","hi"],"as":["k","e"]}],"mark":{"type":"tick","color":"#000","thickness":1.3,"size":5},"encoding":{"x":{"field":"c","type":"nominal","sort":["35L","35H","50L","50H","65L","65H"],"axis":null},"y":{"field":"e","type":"quantitative","axis":null}}}
 ],
 "resolve":{"axis":{"x":"independent","y":"independent"}}},
{"width":130,"height":143,"title":{"text":"E","dx":-27,"offset":-13},
 "layer":[
  {"data":{"values":[{}]},"mark":{"type":"rule","color":"#c8c8c8","strokeWidth":1},"encoding":{"y":{"datum":0,"type":"quantitative","axis":null}}},
  {"data":{"name":"bars"},"transform":[{"filter":"datum.p=='E'"}],"mark":{"type":"bar","color":"#f29424","stroke":"#555","strokeWidth":0.6},"encoding":{"x":{"field":"c","type":"nominal","sort":["35","50","65"],"scale":{"paddingInner":0.2,"paddingOuter":0.8},"axis":{"title":"Force Target (%MVC)","labelAngle":0,"labelPadding":2,"titlePadding":0}},"y":{"field":"m","type":"quantitative","scale":{"domain":[-10,20],"nice":false},"axis":{"title":"Signed Error (%)","values":[-5,0,5,10,15,20],"labelExpr":"''+datum.value","labelOverlap":false}}}},
  {"data":{"name":"pE"},"transform":[{"window":[{"op":"row_number","as":"i"}],"groupby":["c"]}],"mark":{"type":"circle","size":20,"color":"#8a8a8a","opacity":0.6},"encoding":{"x":{"field":"c","type":"nominal","sort":["35","50","65"],"axis":{"orient":"top","title":"Incentive Difference","labels":false,"domain":false,"ticks":false,"titleFontWeight":"bold","titlePadding":3,"titleColor":"#111"}},"xOffset":{"field":"i","type":"ordinal","scale":{"domain":[5,12,1,16,9,3,14,7,18,10,2,13,6,17,4,11,8,15],"range":[6,18]}},"y":{"field":"v","type":"quantitative","axis":null}}},
  {"data":{"name":"bars"},"transform":[{"filter":"datum.p=='E'"}],"mark":{"type":"rule","color":"#000","strokeWidth":1.3},"encoding":{"x":{"field":"c","type":"nominal","sort":["35","50","65"],"axis":null},"y":{"field":"lo","type":"quantitative","axis":null},"y2":{"field":"hi"}}},
  {"data":{"name":"bars"},"transform":[{"filter":"datum.p=='E'"},{"fold":["lo","hi"],"as":["k","e"]}],"mark":{"type":"tick","color":"#000","thickness":1.3,"size":5},"encoding":{"x":{"field":"c","type":"nominal","sort":["35","50","65"],"axis":null},"y":{"field":"e","type":"quantitative","axis":null}}}
 ],
 "resolve":{"axis":{"x":"independent","y":"independent"}}},
{"width":130,"height":143,"title":{"text":"F","dx":-25,"offset":-13},
 "layer":[
  {"data":{"values":[{}]},"mark":{"type":"rule","color":"#c8c8c8","strokeWidth":1},"encoding":{"y":{"datum":0,"type":"quantitative","axis":null}}},
  {"data":{"name":"bars"},"transform":[{"filter":"datum.p=='F'"}],"mark":{"type":"bar","color":"#f29424","stroke":"#555","strokeWidth":0.6},"encoding":{"x":{"field":"c","type":"nominal","sort":["35","50","65"],"scale":{"paddingInner":0.2,"paddingOuter":0.8},"axis":{"title":"Force Target (%MVC)","labelAngle":0,"labelPadding":2,"titlePadding":0}},"y":{"field":"m","type":"quantitative","scale":{"domain":[-10,20],"nice":false},"axis":{"title":"Signed Error (%)","values":[-5,0,5,10,15,20],"labelExpr":"''+datum.value","labelOverlap":false}}}},
  {"data":{"name":"pF"},"transform":[{"window":[{"op":"row_number","as":"i"}],"groupby":["c"]}],"mark":{"type":"circle","size":20,"color":"#8a8a8a","opacity":0.6},"encoding":{"x":{"field":"c","type":"nominal","sort":["35","50","65"],"axis":{"orient":"top","title":"Incentive Difference","labels":false,"domain":false,"ticks":false,"titleFontWeight":"bold","titlePadding":3,"titleColor":"#111"}},"xOffset":{"field":"i","type":"ordinal","scale":{"domain":[5,12,1,16,9,3,14,7,18,10,2,13,6,17,4,11,8,15],"range":[6,18]}},"y":{"field":"v","type":"quantitative","axis":null}}},
  {"data":{"name":"bars"},"transform":[{"filter":"datum.p=='F'"}],"mark":{"type":"rule","color":"#000","strokeWidth":1.3},"encoding":{"x":{"field":"c","type":"nominal","sort":["35","50","65"],"axis":null},"y":{"field":"lo","type":"quantitative","axis":null},"y2":{"field":"hi"}}},
  {"data":{"name":"bars"},"transform":[{"filter":"datum.p=='F'"},{"fold":["lo","hi"],"as":["k","e"]}],"mark":{"type":"tick","color":"#000","thickness":1.3,"size":5},"encoding":{"x":{"field":"c","type":"nominal","sort":["35","50","65"],"axis":null},"y":{"field":"e","type":"quantitative","axis":null}}}
 ],
 "resolve":{"axis":{"x":"independent","y":"independent"}}},
{"width":130,"height":143,"title":{"text":"G","dx":-25,"offset":-13},
 "layer":[
  {"data":{"values":[{}]},"mark":{"type":"rule","color":"#c8c8c8","strokeWidth":1},"encoding":{"y":{"datum":0,"type":"quantitative","axis":null}}},
  {"data":{"name":"bars"},"transform":[{"filter":"datum.p=='G'"}],"mark":{"type":"bar","color":"#f29424","stroke":"#555","strokeWidth":0.6},"encoding":{"x":{"field":"c","type":"nominal","sort":["35","50","65"],"scale":{"paddingInner":0.2,"paddingOuter":0.8},"axis":{"title":"Force Target (%MVC)","labelAngle":0,"labelPadding":2,"titlePadding":0}},"y":{"field":"m","type":"quantitative","scale":{"domain":[-10,20],"nice":false},"axis":{"title":"Signed Error (%)","values":[-5,0,5,10,15,20],"labelExpr":"''+datum.value","labelOverlap":false}}}},
  {"data":{"name":"pG"},"transform":[{"window":[{"op":"row_number","as":"i"}],"groupby":["c"]}],"mark":{"type":"circle","size":20,"color":"#8a8a8a","opacity":0.6},"encoding":{"x":{"field":"c","type":"nominal","sort":["35","50","65"],"axis":{"orient":"top","title":"Incentive Difference","labels":false,"domain":false,"ticks":false,"titleFontWeight":"bold","titlePadding":3,"titleColor":"#111"}},"xOffset":{"field":"i","type":"ordinal","scale":{"domain":[5,12,1,16,9,3,14,7,18,10,2,13,6,17,4,11,8,15],"range":[6,18]}},"y":{"field":"v","type":"quantitative","axis":null}}},
  {"data":{"name":"bars"},"transform":[{"filter":"datum.p=='G'"}],"mark":{"type":"rule","color":"#000","strokeWidth":1.3},"encoding":{"x":{"field":"c","type":"nominal","sort":["35","50","65"],"axis":null},"y":{"field":"lo","type":"quantitative","axis":null},"y2":{"field":"hi"}}},
  {"data":{"name":"bars"},"transform":[{"filter":"datum.p=='G'"},{"fold":["lo","hi"],"as":["k","e"]}],"mark":{"type":"tick","color":"#000","thickness":1.3,"size":5},"encoding":{"x":{"field":"c","type":"nominal","sort":["35","50","65"],"axis":null},"y":{"field":"e","type":"quantitative","axis":null}}}
 ],
 "resolve":{"axis":{"x":"independent","y":"independent"}}},
{"width":130,"height":143,"title":{"text":"H","dx":-25,"offset":-13},
 "layer":[
  {"data":{"values":[{}]},"mark":{"type":"rule","color":"#c8c8c8","strokeWidth":1},"encoding":{"y":{"datum":0,"type":"quantitative","axis":null}}},
  {"data":{"name":"bars"},"transform":[{"filter":"datum.p=='H'"}],"mark":{"type":"bar","color":"#f29424","stroke":"#555","strokeWidth":0.6},"encoding":{"x":{"field":"c","type":"nominal","sort":["35","50","65"],"scale":{"paddingInner":0.2,"paddingOuter":0.8},"axis":{"title":"Force Target (%MVC)","labelAngle":0,"labelPadding":2,"titlePadding":0}},"y":{"field":"m","type":"quantitative","scale":{"domain":[-10,20],"nice":false},"axis":{"title":"Signed Error (%)","values":[-5,0,5,10,15,20],"labelExpr":"''+datum.value","labelOverlap":false}}}},
  {"data":{"name":"pH"},"transform":[{"window":[{"op":"row_number","as":"i"}],"groupby":["c"]}],"mark":{"type":"circle","size":20,"color":"#8a8a8a","opacity":0.6},"encoding":{"x":{"field":"c","type":"nominal","sort":["35","50","65"],"axis":{"orient":"top","title":"Incentive Difference","labels":false,"domain":false,"ticks":false,"titleFontWeight":"bold","titlePadding":3,"titleColor":"#111"}},"xOffset":{"field":"i","type":"ordinal","scale":{"domain":[5,12,1,16,9,3,14,7,18,10,2,13,6,17,4,11,8,15],"range":[6,18]}},"y":{"field":"v","type":"quantitative","axis":null}}},
  {"data":{"name":"bars"},"transform":[{"filter":"datum.p=='H'"}],"mark":{"type":"rule","color":"#000","strokeWidth":1.3},"encoding":{"x":{"field":"c","type":"nominal","sort":["35","50","65"],"axis":null},"y":{"field":"lo","type":"quantitative","axis":null},"y2":{"field":"hi"}}},
  {"data":{"name":"bars"},"transform":[{"filter":"datum.p=='H'"},{"fold":["lo","hi"],"as":["k","e"]}],"mark":{"type":"tick","color":"#000","thickness":1.3,"size":5},"encoding":{"x":{"field":"c","type":"nominal","sort":["35","50","65"],"axis":null},"y":{"field":"e","type":"quantitative","axis":null}}}
 ],
 "resolve":{"axis":{"x":"independent","y":"independent"}}}
]
}
